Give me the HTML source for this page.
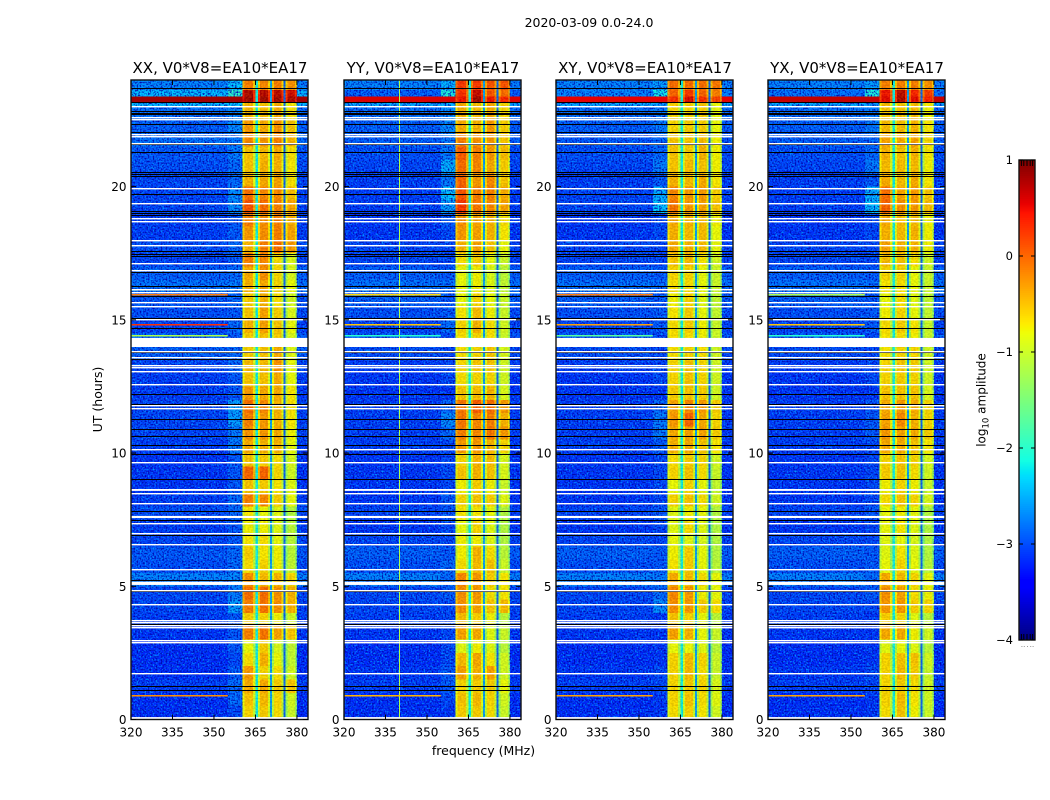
<!DOCTYPE html>
<html lang="en">
<head>
<meta charset="utf-8">
<title>2020-03-09 0.0-24.0</title>
<style>
html,body{margin:0;padding:0;background:#fff;width:1050px;height:800px;overflow:hidden}
svg{display:block}
text{font-family:"DejaVu Sans","Liberation Sans",sans-serif;fill:#000}
</style>
</head>
<body>
<svg id="chart" xmlns="http://www.w3.org/2000/svg" width="1050" height="800" viewBox="0 0 1050 800">
  <defs>
    <filter id="speckle-light" x="0" y="0" width="100%" height="100%" color-interpolation-filters="sRGB">
      <feTurbulence type="fractalNoise" baseFrequency="0.62" numOctaves="1" seed="7"/>
      <feColorMatrix type="matrix" values="0 0 0 0 0  0 0 0 0 0.6  0 0 0 0 1  3.2 0 0 0 -1.45"/>
    </filter>
    <filter id="speckle-dark" x="0" y="0" width="100%" height="100%" color-interpolation-filters="sRGB">
      <feTurbulence type="fractalNoise" baseFrequency="0.62" numOctaves="1" seed="23"/>
      <feColorMatrix type="matrix" values="0 0 0 0 0  0 0 0 0 0  0 0 0 0 0.65  3.2 0 0 0 -1.45"/>
    </filter>
    <filter id="speckle-band" x="0" y="0" width="100%" height="100%" color-interpolation-filters="sRGB">
      <feTurbulence type="fractalNoise" baseFrequency="0.5 0.6" numOctaves="1" seed="11"/>
      <feColorMatrix type="matrix" values="4 0 0 0 -1.5  4 0 0 0 -1.5  0 0 0 0 0  0 0 0 0 1"/>
    </filter>
  </defs>
  <text x="589" y="27" font-size="12.5" text-anchor="middle">2020-03-09 0.0-24.0</text>
  <g id="panels"></g>
  <text x="483.5" y="755" font-size="12.5" text-anchor="middle">frequency (MHz)</text>
  <text x="0" y="0" font-size="12.5" text-anchor="middle" transform="translate(102 399.5) rotate(-90)">UT (hours)</text>
  <g id="colorbar"></g>
  <text x="0" y="0" font-size="12" text-anchor="middle" transform="translate(985.5 400) rotate(-90)">log<tspan font-size="8.5" dy="3">10</tspan><tspan dy="-3"> amplitude</tspan></text>
</svg>
<script>
// ---------- categories and ticks ----------
var panelTitles = ["XX, V0*V8=EA10*EA17", "YY, V0*V8=EA10*EA17", "XY, V0*V8=EA10*EA17", "YX, V0*V8=EA10*EA17"];
var freqTicks = [320, 335, 350, 365, 380];
var hourTicks = [0, 5, 10, 15, 20];
var colorTicks = [1, 0, -1, -2, -3, -4];
var freqRange = [320, 384];
var hourRange = [0, 24];
var colorRange = [-4, 1];

// time bin edges (hours UT)
var timeEdges = [0,0.5,1,1.5,2,2.5,3,3.5,4,4.5,5,5.5,6,6.5,7,7.5,8,8.5,9,9.5,10,10.5,11,11.5,12,12.5,13,13.5,14,14.5,15,15.5,16,16.5,17,17.5,18,18.5,19,19.5,20,20.5,21,21.5,22,22.5,23,23.18,23.38,23.62,24];

// frequency channels (MHz). source: 0 off-band, 1 near-band, 2..5 sub-bands, -1 fixed level
var channelEdges  = [320,355,360.3,361,364.2,365,366,366.7,369.5,370.2,371,371.7,374.4,375.1,375.9,376.6,379.3,380,384];
var channelSource = [0,1,2,2,2,-1,3,3,3,-1,4,4,4,-1,5,5,5,0];
var channelOffset = [-0.2,-0.35,-0.35,-0.05,-0.5,-2.2,-0.5,-0.05,-0.5,-2.6,-0.5,-0.05,-0.5,-2.9,-0.5,-0.1,-0.4,-0.22];

// log10 amplitude per time bin: [off-band, near-band, sub1, sub2, sub3, sub4]
var rowsXX = [
[-3,-2.7,-.55,-.5,-.6,-.9],[-3,-2.5,-.45,-.4,-.55,-.85],[-2.9,-2.5,-.3,-.3,-.5,-.4],[-3,-2.6,-.2,-.55,-.6,-.85],
[-3,-2.7,-.6,-.35,-.75,-.95],[-3,-2.6,-.75,-.5,-.85,-.95],[-2.95,-2.6,-.05,0,-.25,-.4],[-2.9,-2.6,-.5,-.55,-.7,-.85],
[-2.85,-2.2,-.05,0,-.15,-.3],[-2.85,-2.4,.05,.05,-.15,-.3],[-2.5,-2.3,-.15,-.4,-.35,-.5],[-2.8,-2.5,-.6,-.55,-.7,-.95],
[-2.75,-2.5,-.5,-.65,-.7,-1],[-2.85,-2.6,-.65,-.6,-.75,-1],[-2.9,-2.6,-.7,-.7,-.8,-1],[-2.8,-2.5,-.65,-.75,-.8,-1.05],
[-2.9,-2.5,-.05,-.1,-.5,-.7],[-2.95,-2.6,-.45,-.5,-.65,-.75],[-2.95,-2.6,.1,.1,-.55,-.85],[-2.95,-2.6,-.45,-.5,-.6,-.8],
[-2.9,-2.4,-.3,-.35,-.35,-.7],[-2.85,-2.4,-.15,-.2,-.3,-.65],[-2.85,-2.2,-.05,-.2,-.35,-.6],[-2.85,-2.2,.05,-.1,-.35,-.55],
[-2.9,-2.6,-.2,-.3,-.3,-.6],[-2.9,-2.6,-.45,-.45,-.3,-.7],[-2.85,-2.5,-.4,-.4,-.15,-.7],[-2.7,-2.5,-.5,-.45,-.3,-.75],
[-2.7,-2.6,-.5,-.45,-.5,-.8],[-2.85,-2.5,-.35,-.25,-.45,-.7],[-2.8,-2.6,-.45,-.25,-.5,-.8],[-2.75,-2.5,-.5,-.35,-.6,-.85],
[-2.6,-2.4,-.35,-.3,-.55,-.7],[-2.7,-2.5,-.3,-.15,-.55,-.8],[-2.85,-2.6,-.05,-.1,-.6,-.8],[-2.8,-2.5,-.35,-.05,.05,-.15],
[-2.9,-2.6,-.2,-.15,-.05,-.2],[-2.9,-2.6,-.05,-.15,-.05,-.25],[-2.85,-2.3,.2,.05,-.05,-.2],[-2.85,-2.3,.05,-.1,-.1,-.35],
[-2.85,-2.5,-.35,-.3,-.25,-.55],[-2.8,-2.5,-.45,-.35,-.35,-.6],[-2.75,-2.4,-.45,-.4,-.3,-.55],[-2.6,-2.4,-.1,-.2,-.05,-.3],
[-2.7,-2.3,-.2,-.3,-.15,-.4],[-2.6,-2.3,-.35,-.4,-.3,-.55],[-2.2,-2,-.35,-.45,-.3,-.6],[.85,.85,.9,.9,.9,.9],
[-2.2,-1.6,.85,.8,.8,.75],[-2.5,-2,-.05,-.1,-.05,-.1]];
var rowsYY = [
[-3,-2.8,-.5,-.5,-.6,-.9],[-3,-2.7,-.45,-.4,-.55,-.85],[-2.9,-2.6,-.55,-.5,-.5,-.7],[-2.95,-2.6,-.25,-.35,-.25,-.85],
[-3,-2.7,-.4,-.3,-.65,-.85],[-3,-2.7,-.8,-.7,-.8,-1],[-2.95,-2.7,-.25,-.3,-.8,-.9],[-2.9,-2.7,-.4,-.5,-.7,-1],
[-2.85,-2.7,-.15,-.25,-.45,-.35],[-2.85,-2.6,-.15,-.2,-.6,-.6],[-2.5,-2.5,-.1,-.2,-.5,-.6],[-2.8,-2.5,-.6,-.4,-.45,-.9],
[-2.7,-2.6,-.7,-.35,-.6,-1],[-2.85,-2.7,-.7,-.7,-.8,-1.05],[-2.95,-2.7,-.75,-.55,-.8,-1.05],[-2.85,-2.6,-.65,-.65,-.75,-1.05],
[-2.95,-2.6,-.55,-.45,-.5,-.75],[-2.95,-2.7,-.7,-.5,-.7,-.9],[-2.95,-2.7,-.45,-.35,-.45,-.8],[-2.95,-2.7,-.55,-.35,-.4,-.8],
[-2.9,-2.7,-.2,-.2,-.35,-.5],[-2.9,-2.5,-.05,-.1,0,-.15],[-2.9,-2.3,0,-.1,-.05,-.3],[-2.9,-2.5,0,.15,.05,-.15],
[-2.95,-2.8,-.45,-.4,-.35,-.8],[-2.95,-2.7,-.6,-.55,-.55,-.85],[-2.9,-2.7,-.55,-.45,-.45,-.85],[-2.8,-2.7,-.6,-.55,-.45,-.8],
[-2.75,-2.7,-.6,-.55,-.6,-.9],[-2.85,-2.5,-.55,-.35,-.6,-.85],[-2.8,-2.6,-.65,-.4,-.7,-.9],[-2.7,-2.6,-.75,-.55,-.75,-.9],
[-2.6,-2.5,-.75,-.7,-.8,-.95],[-2.7,-2.6,-.75,-.7,-.85,-1],[-2.85,-2.7,-.6,-.5,-.75,-.9],[-2.85,-2.7,-.35,-.25,-.45,-.7],
[-2.95,-2.7,-.2,-.25,-.35,-.6],[-2.95,-2.6,-.15,-.25,-.35,-.55],[-2.9,-2.2,.35,0,-.1,-.2],[-2.9,-2,.2,-.05,-.05,-.25],
[-2.9,-2.4,.1,-.2,-.1,-.4],[-2.85,-2.1,.05,-.1,-.3,-.45],[-2.8,-2.4,.15,-.05,-.2,-.35],[-2.7,-2.4,-.05,-.15,-.2,-.4],
[-2.7,-2.3,-.3,-.35,-.2,-.45],[-2.6,-2.3,-.35,-.4,-.3,-.5],[-2.3,-2.1,-.3,-.4,-.25,-.5],[.6,.65,.55,.9,.55,.5],
[-2.7,-1.7,.4,.75,.2,.1],[-2.5,-2.1,.35,.35,.2,.25]];
var rowsXY = [
[-3,-2.8,-.6,-.55,-.65,-.85],[-3,-2.8,-.55,-.45,-.6,-.75],[-2.9,-2.7,-.55,-.5,-.55,-.8],[-2.95,-2.7,-.55,-.4,-.6,-.9],
[-3,-2.8,-.55,-.4,-.55,-.9],[-3,-2.8,-.75,-.75,-.8,-1],[-2.95,-2.8,-.25,-.35,-.75,-.9],[-2.9,-2.8,-.45,-.55,-.75,-1],
[-2.85,-2.3,-.15,-.2,-.5,-.55],[-2.85,-2.5,-.1,-.2,-.7,-.7],[-2.5,-2.4,-.3,-.4,-.6,-.7],[-2.8,-2.6,-.65,-.5,-.75,-1],
[-2.7,-2.6,-.7,-.5,-.75,-1.05],[-2.85,-2.7,-.75,-.8,-.85,-1.05],[-2.95,-2.7,-.8,-.6,-.8,-1.05],[-2.85,-2.6,-.8,-.7,-.75,-1.05],
[-2.95,-2.7,-.55,-.45,-.6,-.85],[-2.95,-2.7,-.75,-.55,-.75,-.95],[-2.95,-2.7,-.55,-.45,-.6,-.9],[-2.95,-2.7,-.6,-.5,-.55,-.85],
[-2.9,-2.6,-.35,-.3,-.45,-.6],[-2.9,-2.4,-.3,-.25,-.25,-.45],[-2.9,-2.4,-.2,.1,-.3,-.5],[-2.9,-2.5,-.25,-.1,-.2,-.45],
[-2.95,-2.8,-.5,-.45,-.5,-.85],[-2.95,-2.7,-.55,-.45,-.55,-.85],[-2.9,-2.7,-.55,-.45,-.55,-.85],[-2.8,-2.7,-.6,-.55,-.6,-.85],
[-2.75,-2.7,-.6,-.6,-.7,-.9],[-2.85,-2.6,-.6,-.5,-.7,-.9],[-2.8,-2.6,-.65,-.5,-.75,-.95],[-2.7,-2.6,-.7,-.55,-.8,-.95],
[-2.6,-2.5,-.6,-.6,-.75,-.9],[-2.7,-2.6,-.55,-.55,-.75,-.9],[-2.85,-2.7,-.45,-.4,-.65,-.85],[-2.85,-2.7,-.3,-.35,-.4,-.7],
[-2.95,-2.7,-.35,-.4,-.4,-.7],[-2.95,-2.7,-.3,-.35,-.4,-.65],[-2.85,-2,0,-.2,-.25,-.4],[-2.85,-2.1,-.1,-.2,-.2,-.45],
[-2.9,-2.6,-.35,-.4,-.3,-.6],[-2.85,-2.4,-.45,-.4,-.45,-.65],[-2.8,-2.5,-.45,-.5,-.35,-.65],[-2.75,-2.5,-.45,-.45,-.4,-.65],
[-2.7,-2.4,-.55,-.5,-.5,-.7],[-2.6,-2.4,-.55,-.55,-.5,-.7],[-2.3,-2.2,-.5,-.5,-.45,-.7],[.55,.55,.4,.65,.4,.35],
[-2.5,-1.8,.1,.35,.1,0],[-2.5,-2.2,.05,.05,.05,.05]];
var rowsYX = [
[-3,-2.8,-.6,-.45,-.7,-.9],[-3,-2.8,-.55,-.4,-.65,-.85],[-2.9,-2.7,-.55,-.5,-.6,-.85],[-2.95,-2.7,-.55,-.4,-.5,-.9],
[-3,-2.8,-.55,-.45,-.45,-.85],[-3,-2.8,-.8,-.75,-.8,-1],[-2.95,-2.8,-.3,-.3,-.7,-.85],[-2.9,-2.8,-.5,-.55,-.8,-1],
[-2.85,-2.7,-.2,-.2,-.5,-.5],[-2.85,-2.6,-.15,-.25,-.6,-.65],[-2.5,-2.5,-.3,-.4,-.55,-.7],[-2.8,-2.6,-.75,-.55,-.75,-1],
[-2.7,-2.6,-.8,-.65,-.8,-1.05],[-2.85,-2.7,-.8,-.75,-.85,-1.05],[-2.95,-2.7,-.75,-.65,-.8,-1.05],[-2.85,-2.6,-.75,-.7,-.75,-1.05],
[-2.95,-2.7,-.6,-.45,-.55,-.8],[-2.95,-2.7,-.7,-.55,-.7,-.9],[-2.95,-2.7,-.5,-.45,-.6,-.85],[-2.95,-2.7,-.55,-.45,-.55,-.8],
[-2.9,-2.7,-.3,-.3,-.45,-.6],[-2.9,-2.6,-.2,-.25,-.3,-.45],[-2.9,-2.6,-.25,-.1,-.35,-.5],[-2.9,-2.6,-.3,-.2,-.3,-.5],
[-2.95,-2.8,-.45,-.45,-.45,-.8],[-2.95,-2.7,-.55,-.5,-.55,-.85],[-2.9,-2.7,-.55,-.45,-.5,-.85],[-2.8,-2.7,-.65,-.55,-.55,-.85],
[-2.75,-2.7,-.65,-.6,-.7,-.9],[-2.85,-2.6,-.6,-.5,-.65,-.9],[-2.8,-2.6,-.7,-.55,-.75,-.95],[-2.7,-2.6,-.75,-.6,-.8,-.95],
[-2.6,-2.5,-.65,-.6,-.75,-.9],[-2.7,-2.6,-.55,-.55,-.75,-.9],[-2.85,-2.7,-.4,-.45,-.6,-.85],[-2.85,-2.7,-.25,-.35,-.35,-.65],
[-2.95,-2.7,-.35,-.4,-.35,-.65],[-2.95,-2.7,-.3,-.4,-.4,-.65],[-2.9,-2,.1,-.15,-.2,-.35],[-2.9,-2.1,.05,-.25,-.2,-.4],
[-2.9,-2.6,-.3,-.4,-.3,-.6],[-2.85,-2.4,-.4,-.4,-.4,-.65],[-2.8,-2.5,-.35,-.45,-.35,-.6],[-2.7,-2.5,-.25,-.3,-.25,-.5],
[-2.7,-2.4,-.4,-.4,-.35,-.6],[-2.6,-2.4,-.45,-.45,-.4,-.65],[-2.3,-2.2,-.4,-.45,-.4,-.6],[.7,.75,.6,.85,.6,.55],
[-2.6,-1.7,.55,.8,.45,.4],[-2.5,-2.2,-.05,-.05,-.05,-.1]];

// narrow-band flagged / noisy rows (hours), same for all polarisations
var whiteLines = [23.02,22.62,22.53,21.97,21.89,21.65,19.96,19.38,18.81,18.71,17.99,17.80,17.12,16.88,16.16,16.06,15.68,15.53,15.03,13.83,13.59,13.32,13.22,13.07,12.58,11.79,11.69,10.14,9.65,8.49,8.12,7.38,6.99,6.58,5.66,4.85,4.35,3.72,3.65,3.54,3.47,3.0,2.90,1.73];
var whiteBandStart = [0,5.05,7.56,8.58,13.98];
var whiteBandEnd   = [0.09,5.17,7.64,8.65,14.32];
var blackLines = [23.69,23.19,22.85,22.77,22.72,22.36,22.06,21.61,21.31,20.55,20.49,20.39,19.71,19.09,19.01,18.93,17.59,17.48,17.40,16.81,16.28,15.90,15.08,14.68,13.81,13.53,12.23,11.85,11.27,10.92,10.65,10.32,9.95,9.02,7.84,7.48,6.91,5.25,4.82,3.60,1.25,1.10];

// bright interference rows across the off-band region
var hotHours = [0.92,14.43,14.85,15.97,16.15];
var hotXX = [-.2,-1.2,.3,-.1,-.9];
var hotYY = [-.4,-2,-.5,-.6,-1.6];
var hotXY = [-.3,-1.7,-.3,-.1,-.7];
var hotYX = [-.3,-2,-.5,-1.2,-1.5];
var hotEndFreq = 355;
// steady interference column visible in YY only
var rfiFreq = [339.8];
var rfiLevel = [-1.2];

var panelRows = [rowsXX, rowsYY, rowsXY, rowsYX];
var panelHot = [hotXX, hotYY, hotXY, hotYX];
var panelKeys = ["xx", "yy", "xy", "yx"];
var panelLeft = [131, 344, 556, 768];
var panelWidth = 177;
var plotTop = 80;
var plotBottom = 719.5;

var NS = "http://www.w3.org/2000/svg";
function el(tag, parent) {
  var e = document.createElementNS(NS, tag);
  parent.appendChild(e);
  return e;
}
function set(e, props) {
  for (var k in props) { e.setAttribute(k, props[k]); }
  return e;
}
function jetChannel(t, a, b, c, d) {
  // piecewise-linear ramp up from a to b and down from c to d
  var v = Math.min((t - a) / (b - a), (d - t) / (d - c));
  return Math.round(255 * Math.max(0, Math.min(1, v)));
}
function jet(value) {
  var t = (value - colorRange[0]) / (colorRange[1] - colorRange[0]);
  t = Math.max(0, Math.min(1, t));
  var r = t < 0.89 ? jetChannel(t, 0.35, 0.66, 0.89, 2) : Math.round(255 * (1 - (t - 0.89) / 0.11 * 0.5));
  var g = jetChannel(t, 0.125, 0.375, 0.64, 0.91);
  var b = t > 0.11 ? jetChannel(t, 0.11, 0.34, 0.34, 0.65) : Math.round(255 * (0.5 + t / 0.11 * 0.5));
  if (t >= 0.11 && t <= 0.34) { b = 255; }
  return "rgb(" + r + "," + g + "," + b + ")";
}

var panelsRoot = document.getElementById("panels");

panelTitles.forEach(function (title, p) {
  var left = panelLeft[p];
  var key = panelKeys[p];
  function xs(f) { return left + (f - freqRange[0]) / (freqRange[1] - freqRange[0]) * panelWidth; }
  function ys(h) { return plotBottom - (h - hourRange[0]) / (hourRange[1] - hourRange[0]) * (plotBottom - plotTop); }

  var g = el("g", panelsRoot);
  
  

  var heat = el("g", g);
  
  
  heat.setAttribute("shape-rendering", "crispEdges");

  var rows = panelRows[p];
  rows.forEach(function (row, i) {
    channelSource.forEach(function (src, c) {
      var v = src < 0 ? channelOffset[c] : row[src] + channelOffset[c];
      var cell = el("rect", heat);
      
      
      set(cell, {
        x: xs(channelEdges[c]).toFixed(2),
        y: ys(timeEdges[i + 1]).toFixed(2),
        width: (xs(channelEdges[c + 1]) - xs(channelEdges[c])).toFixed(2),
        height: (ys(timeEdges[i]) - ys(timeEdges[i + 1])).toFixed(2),
        fill: jet(v)
      });
    });
  });

  var texH = plotBottom - plotTop;
  var offW = (xs(360.3) - left).toFixed(2);
  var bandX = xs(360.3).toFixed(2);
  var bandW = (xs(380) - xs(360.3)).toFixed(2);
  var rightX = xs(380).toFixed(2);
  var rightW = (xs(384) - xs(380)).toFixed(2);

  var noiseA = el("rect", g);
  
  
  set(noiseA, { x: left, y: plotTop, width: offW, height: texH, filter: "url(#speckle-light)" });
  var noiseB = el("rect", g);
  
  
  set(noiseB, { x: left, y: plotTop, width: offW, height: texH, filter: "url(#speckle-dark)" });
  var noiseC = el("rect", g);
  
  
  set(noiseC, { x: bandX, y: plotTop, width: bandW, height: texH, filter: "url(#speckle-band)", opacity: 0.1 });
  var noiseD = el("rect", g);
  
  
  set(noiseD, { x: rightX, y: plotTop, width: rightW, height: texH, filter: "url(#speckle-light)" });
  var noiseE = el("rect", g);
  
  
  set(noiseE, { x: rightX, y: plotTop, width: rightW, height: texH, filter: "url(#speckle-dark)" });

  // strong off-band rows stay solid above the noise texture
  rows.forEach(function (row, i) {
    if (row[0] < 0) { return; }
    var stripL = el("rect", g);
    
    
    set(stripL, { x: left, y: ys(timeEdges[i + 1]).toFixed(2), width: offW, height: (ys(timeEdges[i]) - ys(timeEdges[i + 1])).toFixed(2), fill: jet(row[0]) });
    var stripR = el("rect", g);
    
    
    set(stripR, { x: rightX, y: ys(timeEdges[i + 1]).toFixed(2), width: rightW, height: (ys(timeEdges[i]) - ys(timeEdges[i + 1])).toFixed(2), fill: jet(row[0]) });
  });

  if (key === "yy") {
    rfiFreq.forEach(function (f, i) {
      var col = el("rect", g);
      
      
      set(col, { x: Math.round(xs(f)), y: plotTop, width: 1, height: plotBottom - plotTop, fill: jet(rfiLevel[i]) });
    });
  }

  panelHot[p].forEach(function (v, i) {
    var hot = el("rect", g);
    
    
    set(hot, { x: xs(freqRange[0]), y: Math.round(ys(hotHours[i])), width: (xs(hotEndFreq) - xs(freqRange[0])).toFixed(2), height: 1.5, fill: jet(v) });
  });

  blackLines.forEach(function (h) {
    var ln = el("rect", g);
    
    
    set(ln, { x: left, y: Math.round(ys(h)), width: panelWidth, height: 1, fill: "#000" });
  });
  whiteLines.forEach(function (h) {
    var ln = el("rect", g);
    
    
    set(ln, { x: left, y: Math.round(ys(h)), width: panelWidth, height: 1.4, fill: "#fff" });
  });
  whiteBandStart.forEach(function (h, i) {
    var band = el("rect", g);
    
    
    set(band, { x: left, y: ys(whiteBandEnd[i]).toFixed(2), width: panelWidth, height: (ys(h) - ys(whiteBandEnd[i])).toFixed(2), fill: "#fff" });
  });

  var frame = el("rect", g);
  
  
  set(frame, { x: left, y: plotTop, width: panelWidth, height: plotBottom - plotTop, fill: "none", stroke: "#111", "stroke-width": 1.4 });

  freqTicks.forEach(function (f) {
    var x = xs(f).toFixed(2);
    var t1 = el("line", g);
    
    
    set(t1, { x1: x, x2: x, y1: plotBottom, y2: plotBottom - 5, stroke: "#000", "stroke-width": 1 });
    var t2 = el("line", g);
    
    
    set(t2, { x1: x, x2: x, y1: plotTop, y2: plotTop + 5, stroke: "#000", "stroke-width": 1 });
    var lab = el("text", g);
    
    
    set(lab, { x: x, y: plotBottom + 17, "font-size": 12, "text-anchor": "middle" });
    lab.textContent = String(f);
  });

  hourTicks.forEach(function (h) {
    var y = ys(h).toFixed(2);
    var t1 = el("line", g);
    
    
    set(t1, { x1: left, x2: left + 5, y1: y, y2: y, stroke: "#000", "stroke-width": 1 });
    var t2 = el("line", g);
    
    
    set(t2, { x1: left + panelWidth, x2: left + panelWidth - 5, y1: y, y2: y, stroke: "#000", "stroke-width": 1 });
    var lab = el("text", g);
    
    
    set(lab, { x: left - 4.5, y: +y + 4.5, "font-size": 12, "text-anchor": "end" });
    lab.textContent = String(h);
  });

  var tt = el("text", g);
  
  
  set(tt, { x: left + panelWidth / 2 + 0.5, y: 73, "font-size": 15, "text-anchor": "middle" });
  tt.textContent = title;
});

// ---------- colorbar ----------
var cbRoot = document.getElementById("colorbar");
var cbLeft = 1019, cbRight = 1035, cbTop = 160, cbBottom = 640;
var cbMinorFractions = [0.15, 0.3, 0.5, 0.7, 0.85];
function cy(v) { return cbBottom - (v - colorRange[0]) / (colorRange[1] - colorRange[0]) * (cbBottom - cbTop); }

for (var v = colorRange[0]; v < colorRange[1]; v += 0.02) {
  var seg = el("rect", cbRoot);
  
  
  set(seg, { x: cbLeft, y: cy(v + 0.02).toFixed(2), width: cbRight - cbLeft, height: 2.4, fill: jet(v + 0.01) });
}
var cbFrame = el("rect", cbRoot);


set(cbFrame, { x: cbLeft, y: cbTop, width: cbRight - cbLeft, height: cbBottom - cbTop, fill: "none", stroke: "#111", "stroke-width": 1.4 });

colorTicks.forEach(function (c) {
  var y = cy(c).toFixed(2);
  var a = el("line", cbRoot);
  
  
  set(a, { x1: cbLeft, x2: cbLeft + 4, y1: y, y2: y, stroke: "#000", "stroke-width": 1 });
  var b = el("line", cbRoot);
  
  
  set(b, { x1: cbRight, x2: cbRight - 4, y1: y, y2: y, stroke: "#000", "stroke-width": 1 });
  var lab = el("text", cbRoot);
  
  
  set(lab, { x: 1013, y: +y + 4, "font-size": 11.5, "text-anchor": "end" });
  lab.textContent = (c < 0 ? "\u2212" + Math.abs(c) : String(c));
});
cbMinorFractions.forEach(function (fr) {
  var x = (cbLeft + fr * (cbRight - cbLeft)).toFixed(2);
  var a = el("line", cbRoot);
  
  
  set(a, { x1: x, x2: x, y1: cbTop, y2: cbTop + 6, stroke: "#000", "stroke-width": 1 });
  var b = el("line", cbRoot);
  
  
  set(b, { x1: x, x2: x, y1: cbBottom, y2: cbBottom - 6, stroke: "#000", "stroke-width": 1 });
  var d = el("rect", cbRoot);
  
  
  set(d, { x: x, y: cbBottom + 6, width: 1, height: 1, fill: "#999" });
});
</script>
</body>
</html>
